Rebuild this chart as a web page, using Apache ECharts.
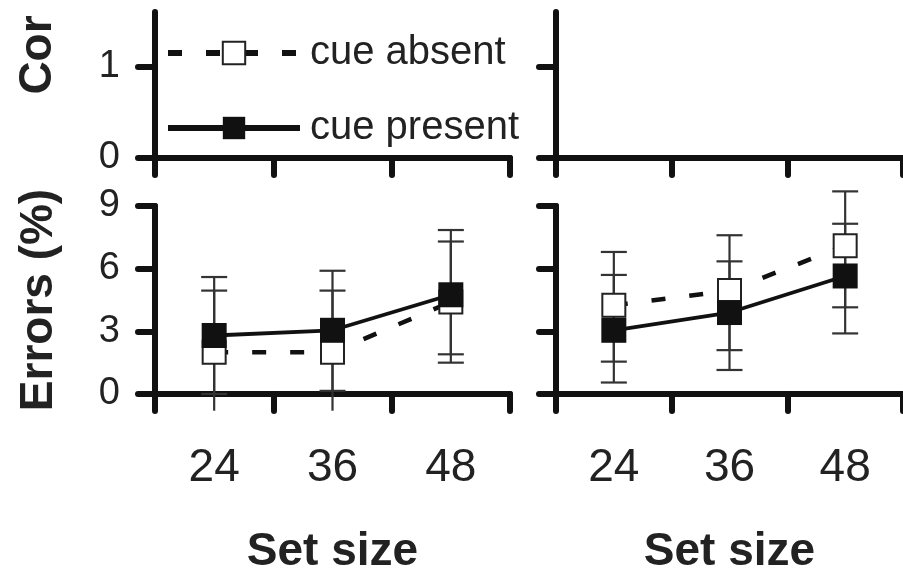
<!DOCTYPE html>
<html>
<head>
<meta charset="utf-8">
<title>Errors by set size</title>
<script src="https://cdn.jsdelivr.net/npm/echarts@6/dist/echarts.min.js"></script>
<style>
  html, body { margin: 0; padding: 0; background: #fff; }
  #chart { width: 903px; height: 576px; }
</style>
</head>
<body>
<div id="chart"></div>
<script>
// categories
var setSizes = ['24', '36', '48'];

// left panel, errors (%)
var leftAbsent = [2.0, 2.0, 4.4];
var leftAbsentLow = [-0.8, -0.8, 1.5];
var leftAbsentHigh = [4.95, 4.95, 7.3];
var leftPresent = [2.8, 3.05, 4.75];
var leftPresentLow = [0.0, 0.15, 1.9];
var leftPresentHigh = [5.6, 5.9, 7.85];

// right panel, errors (%)
var rightAbsent = [4.25, 4.95, 7.1];
var rightAbsentLow = [1.55, 2.1, 4.15];
var rightAbsentHigh = [6.8, 7.6, 9.7];
var rightPresent = [3.05, 3.9, 5.65];
var rightPresentLow = [0.55, 1.15, 2.9];
var rightPresentHigh = [5.7, 6.35, 8.15];

// tick labels
var errorTicks = [0, 3, 6, 9];
var topTicks = [0, 1];

var FONT = '"Liberation Sans", Arial, Helvetica, sans-serif';
var INK = '#111';
var TEXT = '#222';

var chart = echarts.init(document.getElementById('chart'));

// x axes: ticks on the category boundaries
function makeX(gridIndex, withLabels) {
  return {
    type: 'category',
    gridIndex: gridIndex,
    data: setSizes,
    boundaryGap: true,
    axisLine: { show: true, lineStyle: { color: INK, width: 6, cap: 'round' } },
    axisTick: { show: true, length: 17, interval: 0, lineStyle: { color: INK, width: 6, cap: 'round' } },
    axisLabel: {
      show: withLabels, interval: 0, fontSize: 46, margin: 51,
      color: TEXT, fontFamily: FONT
    },
    splitLine: { show: false },
    name: withLabels ? 'Set size' : '',
    nameLocation: 'middle',
    nameGap: 135,
    nameTextStyle: { fontSize: 46, fontWeight: 'bold', color: TEXT, fontFamily: FONT }
  };
}

function makeY(gridIndex, min, max, ticks, withLabels, name) {
  return {
    type: 'value',
    gridIndex: gridIndex,
    min: min,
    max: max,
    axisLine: { show: true, lineStyle: { color: INK, width: 6, cap: 'round' } },
    axisTick: { show: true, length: 17, customValues: ticks, lineStyle: { color: INK, width: 6, cap: 'round' } },
    axisLabel: {
      show: withLabels, customValues: ticks, fontSize: 38, margin: 35,
      color: TEXT, fontFamily: FONT
    },
    splitLine: { show: false },
    name: name || '',
    nameLocation: 'middle',
    nameGap: 93,
    nameTextStyle: { fontSize: 46, fontWeight: 'bold', color: TEXT, fontFamily: FONT }
  };
}

// error bars with caps; a cap below zero is cut off like in the figure
function errorBarItem(params, api) {
  var xi = api.value(0);
  var lo = api.value(1);
  var hi = api.value(2);
  var pHi = api.coord([xi, hi]);
  var pLo = api.coord([xi, lo]);
  var x = pHi[0];
  var half = 13;
  var st = { stroke: '#333', lineWidth: 2.2 };
  var kids = [
    { type: 'line', shape: { x1: x, y1: pHi[1], x2: x, y2: pLo[1] }, style: st },
    { type: 'line', shape: { x1: x - half, y1: pHi[1], x2: x + half, y2: pHi[1] }, style: st }
  ];
  if (lo >= 0) {
    kids.push({ type: 'line', shape: { x1: x - half, y1: pLo[1], x2: x + half, y2: pLo[1] }, style: st });
  }
  return { type: 'group', children: kids };
}

function bars(gridIndex, low, high) {
  return {
    type: 'custom',
    xAxisIndex: gridIndex,
    yAxisIndex: gridIndex,
    renderItem: errorBarItem,
    encode: { x: 0, y: [1, 2] },
    data: setSizes.map(function (c, i) { return [i, low[i], high[i]]; }),
    z: 1,
    silent: true
  };
}

function absentLine(gridIndex, values) {
  return {
    name: 'cue absent',
    type: 'line',
    xAxisIndex: gridIndex,
    yAxisIndex: gridIndex,
    data: values,
    symbol: 'rect',
    symbolSize: 23,
    itemStyle: { color: '#fff', borderColor: '#222', borderWidth: 2 },
    lineStyle: { color: INK, width: 4.5, type: [14, 24] },
    z: 2
  };
}

function presentLine(gridIndex, values) {
  return {
    name: 'cue present',
    type: 'line',
    xAxisIndex: gridIndex,
    yAxisIndex: gridIndex,
    data: values,
    symbol: 'rect',
    symbolSize: 25,
    itemStyle: { color: INK },
    lineStyle: { color: INK, width: 3.8 },
    z: 3
  };
}

var option = {
  animation: false,
  backgroundColor: '#fff',
  grid: [
    { left: 155, top: 12, width: 355, height: 146 },
    { left: 556, top: 12, width: 354, height: 146 },
    { left: 155, top: 206, width: 355, height: 188 },
    { left: 556, top: 206, width: 354, height: 188 }
  ],
  xAxis: [makeX(0, false), makeX(1, false), makeX(2, true), makeX(3, true)],
  yAxis: [
    makeY(0, 0, 1.6, topTicks, true),
    makeY(1, 0, 1.6, topTicks, false),
    makeY(2, 0, 9, errorTicks, true, 'Errors (%)'),
    makeY(3, 0, 9, errorTicks, false)
  ],
  legend: {
    data: ['cue absent', 'cue present'],
    orient: 'vertical',
    left: 165,
    top: 33,
    padding: 0,
    itemWidth: 132,
    itemHeight: 28,
    itemGap: 35,
    selectedMode: false,
    lineStyle: { width: 6 },
    textStyle: { fontSize: 40, color: TEXT, fontFamily: FONT, padding: [0, 0, 0, 5] }
  },
  // the top panel's axis title is cut off in the figure
  graphic: [{
    type: 'text',
    x: 38,
    y: 55,
    rotation: Math.PI / 2,
    style: {
      text: 'Cor',
      font: 'bold 46px ' + FONT,
      fill: TEXT,
      align: 'center',
      verticalAlign: 'middle'
    }
  }],
  series: [
    bars(2, leftAbsentLow, leftAbsentHigh),
    bars(2, leftPresentLow, leftPresentHigh),
    bars(3, rightAbsentLow, rightAbsentHigh),
    bars(3, rightPresentLow, rightPresentHigh),
    absentLine(2, leftAbsent),
    absentLine(3, rightAbsent),
    presentLine(2, leftPresent),
    presentLine(3, rightPresent)
  ]
};

chart.setOption(option);
</script>
</body>
</html>
